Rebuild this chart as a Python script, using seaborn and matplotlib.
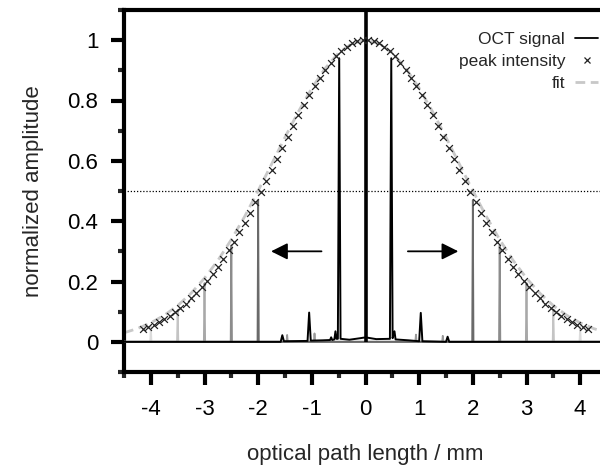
import numpy as np
import pandas as pd
import matplotlib
matplotlib.use("Agg")
import matplotlib.pyplot as plt
from matplotlib.lines import Line2D
import seaborn as sns

# ---------------- data ----------------
# peak intensity (crosses), right half; mirrored for left half
peak_x_right = [0.05, 0.15, 0.25, 0.35, 0.45, 0.55, 0.65, 0.75, 0.85, 0.95,
                1.05, 1.15, 1.25, 1.35, 1.45, 1.55, 1.65, 1.75, 1.85, 1.95,
                2.05, 2.15, 2.25, 2.35, 2.45, 2.55, 2.65, 2.75, 2.85, 2.95,
                3.05, 3.15, 3.25, 3.35, 3.45, 3.55, 3.65, 3.75, 3.85, 3.95,
                4.05, 4.15]
peak_y_right = [1.000, 0.996, 0.989, 0.978, 0.963, 0.946, 0.925, 0.902, 0.876, 0.847,
                0.817, 0.784, 0.751, 0.716, 0.680, 0.643, 0.607, 0.570, 0.533, 0.497,
                0.462, 0.428, 0.395, 0.363, 0.332, 0.303, 0.275, 0.249, 0.225, 0.202,
                0.181, 0.162, 0.144, 0.127, 0.112, 0.099, 0.087, 0.076, 0.066, 0.057,
                0.049, 0.042]

# gaussian fit (gray dashed), right half; mirrored
fit_x_right = [0.0, 0.25, 0.5, 0.75, 1.0, 1.25, 1.5, 1.75, 2.0, 2.25, 2.5, 2.75,
               3.0, 3.25, 3.5, 3.75, 4.0, 4.25, 4.5]
fit_y_right = [1.000, 0.989, 0.958, 0.907, 0.841, 0.763, 0.678, 0.589, 0.501, 0.416,
               0.339, 0.270, 0.211, 0.161, 0.120, 0.088, 0.063, 0.044, 0.030]

# main (black) OCT trace
oct_x = [-4.5, -1.58, -1.55, -1.52, -1.08, -1.05, -1.02, -0.80, -0.66, -0.64, -0.62,
         -0.58, -0.56, -0.54, -0.515, -0.49, -0.465, -0.30, -0.10, -0.03,
         0.03, 0.20, 0.455, 0.48, 0.505, 0.54, 0.56, 0.80, 1.00, 1.03, 1.06,
         1.50, 1.53, 1.56, 4.5]
oct_y = [0.0, 0.0, 0.022, 0.002, 0.003, 0.097, 0.004, 0.005, 0.006, 0.015, 0.006,
         0.008, 0.035, 0.010, 0.010, 0.940, 0.010, 0.007, 0.012, 0.014,
         0.014, 0.009, 0.010, 0.940, 0.012, 0.035, 0.008, 0.005, 0.002, 0.096, 0.002,
         0.0, 0.017, 0.0, 0.0]

# zero-delay peak
center_x = [0.0, 0.0]
center_y = [0.0, 1.15]

# shifted measurements (symmetric peaks), gray traces
shift_pos = [2.0, 2.5, 3.0, 3.5, 4.0]
shift_height = [0.47, 0.32, 0.195, 0.105, 0.05]
shift_gray = ["#6a6a6a", "#8c8c8c", "#a8a8a8", "#c4c4c4", "#dcdcdc"]

# small side features of the gray traces
side_x = [-1.46, -0.95, 0.94, 1.44]
side_y = [0.023, 0.028, 0.024, 0.020]

# arrows (start x, end x, y)
arrow_start = [-0.82, 0.79]
arrow_end = [-1.76, 1.73]
arrow_y = 0.30

half_level = 0.5

xticks = [-4, -3, -2, -1, 0, 1, 2, 3, 4]
yticks = [0, 0.2, 0.4, 0.6, 0.8, 1.0]
ytick_labels = ["0", "0.2", "0.4", "0.6", "0.8", "1"]

# ---------------- build tables ----------------
peak_x = [-v for v in peak_x_right[::-1]] + peak_x_right
peak_y = peak_y_right[::-1] + peak_y_right
fit_x = [-v for v in fit_x_right[::-1]] + fit_x_right[1:]
fit_y = fit_y_right[::-1] + fit_y_right[1:]

rows = []
w = 0.012
for i, (p, h) in enumerate(zip(shift_pos, shift_height)):
    name = f"s{i}"
    xs = [-4.5, -p - w, -p, -p + w, p - w, p, p + w, 4.5]
    ys = [0, 0, h, 0, 0, h, 0, 0]
    for a, b in zip(xs, ys):
        rows.append((name, a, b))
side_rows = []
for a, b in zip(side_x, side_y):
    side_rows += [(a - 0.012, 0.0), (a, b), (a + 0.012, 0.0)]
for a, b in [(-4.5, 0.0)] + side_rows + [(4.5, 0.0)]:
    rows.append(("side", a, b))
sig = pd.DataFrame(rows, columns=["trace", "x", "y"])
palette = {f"s{i}": c for i, c in enumerate(shift_gray)}
palette["side"] = "#9a9a9a"

main = pd.DataFrame({"x": oct_x, "y": oct_y})
peaks = pd.DataFrame({"x": peak_x, "y": peak_y})
fit = pd.DataFrame({"x": fit_x, "y": fit_y})

# ---------------- plot ----------------
sns.set_style("ticks")
plt.rcParams["font.family"] = ["Liberation Sans", "DejaVu Sans"]
plt.rcParams["axes.unicode_minus"] = False

fig = plt.figure(figsize=(6.0, 4.66), dpi=100)
ax = fig.add_axes([124 / 600, (466 - 372) / 466, (607 - 124) / 600, 362 / 466])

# fit
sns.lineplot(data=fit, x="x", y="y", ax=ax, color="#c8c8c8", lw=2.0,
             dashes=False, estimator=None, sort=False, zorder=2)
ax.lines[-1].set_dashes([3.5, 2.0])

# gray traces
for order in list(palette.keys())[::-1]:
    sub = sig[sig["trace"] == order]
    sns.lineplot(data=sub, x="x", y="y", ax=ax, color=palette[order], lw=1.3,
                 estimator=None, sort=False, zorder=3)

# black trace
sns.lineplot(data=main, x="x", y="y", ax=ax, color="black", lw=1.4,
             estimator=None, sort=False, zorder=4)
ax.plot(center_x, center_y, color="black", lw=2.6, zorder=4, solid_capstyle="butt")

# peak intensities
sns.scatterplot(data=peaks, x="x", y="y", ax=ax, marker="x", color="#222222",
                s=24, linewidth=0.9, zorder=5)

# half-maximum line
ax.axhline(half_level, color="black", lw=0.9, ls=(0, (1, 1.5)), zorder=1)

# arrows
for s, e in zip(arrow_start, arrow_end):
    ax.annotate("", xy=(e, arrow_y), xytext=(s, arrow_y),
                arrowprops=dict(arrowstyle="-|>", color="black", lw=1.3,
                                mutation_scale=25, shrinkA=0, shrinkB=0))

ax.set_xlim(-4.5, 4.5)
ax.set_ylim(-0.1, 1.1)
ax.set_xticks(xticks)
ax.set_xticklabels([str(v) for v in xticks])
ax.set_yticks(yticks)
ax.set_yticklabels(ytick_labels)
ax.set_xticks(np.array([-4.5, -3.5, -2.5, -1.5, -0.5, 0.5, 1.5, 2.5, 3.5, 4.5]), minor=True)
ax.set_yticks(np.array([-0.1, 0.1, 0.3, 0.5, 0.7, 0.9, 1.1]), minor=True)

for side in ["left", "bottom", "top", "right"]:
    ax.spines[side].set_linewidth(3.0)
    ax.spines[side].set_color("black")
ax.tick_params(axis="both", which="major", direction="out", length=9.5, width=3.0,
               labelsize=16, colors="black")
ax.tick_params(axis="both", which="minor", direction="out", length=4.5, width=3.0)
ax.tick_params(axis="x", which="both", top=False, pad=10)
ax.tick_params(axis="y", which="both", right=False, pad=9)

ax.set_xlabel("optical path length / mm", fontsize=16, labelpad=17)
ax.set_ylabel("normalized amplitude", fontsize=16, labelpad=17)

handles = [Line2D([], [], color="black", lw=1.3),
           Line2D([], [], color="#222222", marker="x", ls="none", markersize=4.5, mew=0.9),
           Line2D([], [], color="#c8c8c8", lw=2.0, dashes=[3.5, 2.0])]
fig.legend(handles, ["OCT signal", "peak intensity", "fit"], loc="upper right",
           bbox_to_anchor=(598 / 600, (466 - 32) / 466), frameon=False,
           markerfirst=False, fontsize=12.5, handlelength=1.3, handletextpad=0.6,
           labelspacing=0.38, borderpad=0, borderaxespad=0)

fig.savefig("out.png", dpi=100)
